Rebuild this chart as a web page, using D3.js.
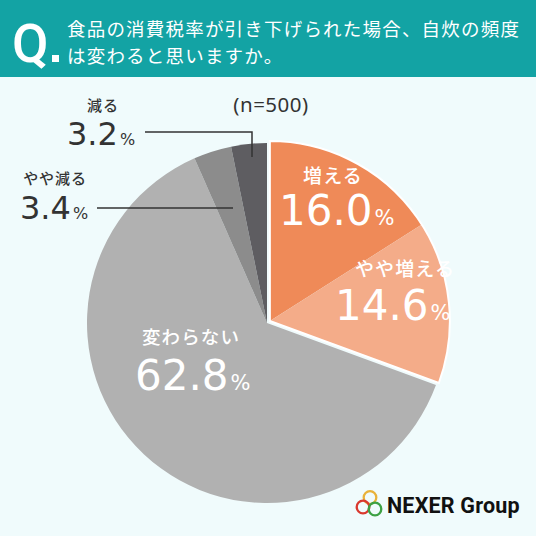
<!DOCTYPE html>
<html><head><meta charset="utf-8">
<script src="https://cdn.jsdelivr.net/npm/d3@7"></script>
<style>html,body{margin:0;padding:0;background:#F0FBFC;}svg{display:block;}</style>
</head><body>
<script>
const categories = ["増える","やや増える","変わらない","やや減る","減る"];
const values = [16.0, 14.6, 62.8, 3.4, 3.2];
const colors = ["#EF8A58","#F4AC89","#B1B1B1","#8C8C8C","#5E5D61"];
const titleLines = ["食品の消費税率が引き下げられた場合、自炊の頻度","は変わると思いますか。"];
const sampleNote = "(n=500)";

const W = 536, H = 536;
const svg = d3.select("body").append("svg").attr("width", W).attr("height", H);
svg.append("rect").attr("width", W).attr("height", H).attr("fill", "#F0FBFC");

// header
svg.append("rect").attr("width", W).attr("height", 77).attr("fill", "#13A3A4");
svg.append("text").attr("x", 12).attr("y", 62).attr("fill", "#fff")
  .attr("font-family", "Roboto, 'Noto Sans'").attr("font-weight", 500).attr("font-size", 53).text("Q");
svg.append("rect").attr("x", 52).attr("y", 55).attr("width", 7).attr("height", 7).attr("fill", "#fff");
titleLines.forEach((t, i) => {
  svg.append("text").attr("x", 67).attr("y", 36 + i * 27).attr("fill", "#fff")
    .attr("font-family", "'Noto Sans CJK JP'").attr("font-weight", 400).attr("font-size", 18.5)
    .attr("letter-spacing", 1.2).text(t);
});

const cx = 267, cy = 323, R = 180;
const pie = d3.pie().sort(null).value(d => d)(values);
const arc = d3.arc().innerRadius(0).outerRadius(R);
const g = svg.append("g").attr("transform", `translate(${cx},${cy})`);
const orangeEnd = pie[1].endAngle;
const mid = orangeEnd / 2, off = 3.5;
pie.forEach((d, i) => {
  const isOrange = i < 2;
  const dx = isOrange ? Math.sin(mid) * off : 0;
  const dy = isOrange ? -Math.cos(mid) * off : 0;
  g.append("path").attr("d", arc(d)).attr("fill", colors[i])
    .attr("transform", `translate(${dx},${dy})`);
});
const gArc = d3.arc().innerRadius(0).outerRadius(R)({startAngle: 0, endAngle: orangeEnd});
g.append("path").attr("d", gArc).attr("fill", "none").attr("stroke", "#fff").attr("stroke-width", 2)
  .attr("transform", `translate(${Math.sin(mid)*off},${-Math.cos(mid)*off})`);

const jp = "'Noto Sans CJK JP'";
const num = "'DejaVu Sans'";
// positions: [name x, name baseline, name size, number x (start), number baseline, number size]
const labelPos = [
  [333, 183, 19, 279, 225, 42],
  [405, 276, 19, 335, 320, 42],
  [191, 344, 18.5, 135, 390, 42],
  [55, 184, 15, 20, 219, 32],
  [103, 111, 15, 67, 145, 32]
];
pie.forEach((d, i) => {
  const [nx, ny, ns, vx, vy, vs] = labelPos[i];
  const fill = i < 3 ? "#fff" : "#333";
  svg.append("text").attr("x", nx).attr("y", ny).attr("fill", fill).attr("text-anchor", "middle")
    .attr("font-family", jp).attr("font-weight", 500).attr("font-size", ns).attr("letter-spacing", ns * 0.06).text(categories[i]);
  const t = svg.append("text").attr("x", vx).attr("y", vy).attr("fill", fill)
    .attr("font-family", num).attr("font-weight", 400).attr("font-size", vs);
  t.append("tspan").text(values[i].toFixed(1));
  t.append("tspan").attr("font-size", vs * 0.5).attr("dx", 2).text("%");
});

// leader lines
svg.append("path").attr("d", "M145,132H252V157").attr("fill", "none").attr("stroke", "#333").attr("stroke-width", 1.5);
svg.append("path").attr("d", "M97,208H233").attr("fill", "none").attr("stroke", "#333").attr("stroke-width", 1.5);

svg.append("text").attr("x", 271).attr("y", 112).attr("text-anchor", "middle").attr("fill", "#333")
  .attr("font-family", "'Noto Sans'").attr("font-size", 20.5).attr("letter-spacing", 0.5).text(sampleNote);

// logo
const lg = svg.append("g").attr("transform", "translate(369,504)");
[["#E9B23A", 1, -6.5], ["#D9392F", -6, 3], ["#3DA144", 6, 5]].forEach(([c, x, y]) => {
  lg.append("circle").attr("cx", x).attr("cy", y).attr("r", 6.3).attr("fill", "none").attr("stroke", c).attr("stroke-width", 2.3);
});
svg.append("text").attr("x", 387).attr("y", 513).attr("fill", "#111")
  .attr("font-family", "Roboto, 'Noto Sans'").attr("font-weight", 700).attr("font-size", 21.5).attr("letter-spacing", 0.2).text("NEXER Group");
</script>
</body></html>
